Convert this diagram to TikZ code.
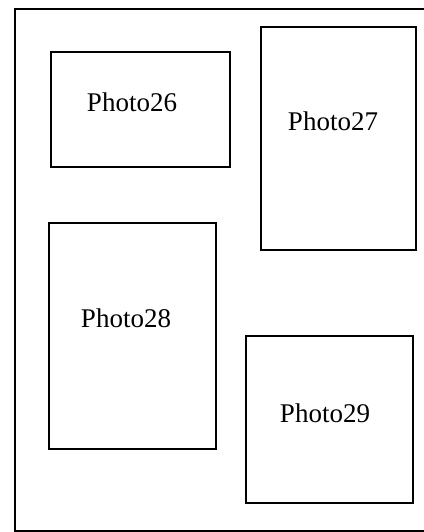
\documentclass[tikz,border=0pt]{standalone}
\usepackage{fontspec}
\setmainfont{Liberation Serif}
\usetikzlibrary{positioning}

\begin{document}
\begin{tikzpicture}[
    x=0.5pt, y=-0.5pt,
    frame/.style={
        draw,
        line width=1.1pt
    },
    photo/.style={
        draw,
        line width=1.3pt,
        inner sep=0pt
    },
    caption/.style={
        font=\fontsize{13.5}{16}\selectfont,
        inner sep=0pt
    }
]
\useasboundingbox (0,0) rectangle (424,532);

% Page frame (cut off at the right and bottom)
\draw [frame] (15,9) rectangle (440,531);

% Photo frames
\node (p26) [photo, minimum width=89.5pt, minimum height=57.5pt] at (140.5,109.5) {};
\node (p27) [photo, minimum width=77.5pt, minimum height=111.5pt] at (338.5,138.5) {};
\node (p28) [photo, minimum width=83.5pt, minimum height=113pt] at (132.5,336) {};
\node (p29) [photo, minimum width=83.5pt, minimum height=83.5pt] at (329.5,419.5) {};

% Captions
\node (c26) [caption] at (132,102) {Photo26};
\node (c27) [caption] at (333,121) {Photo27};
\node (c28) [caption] at (126,318) {Photo28};
\node (c29) [caption] at (325,413) {Photo29};

\end{tikzpicture}
\end{document}
